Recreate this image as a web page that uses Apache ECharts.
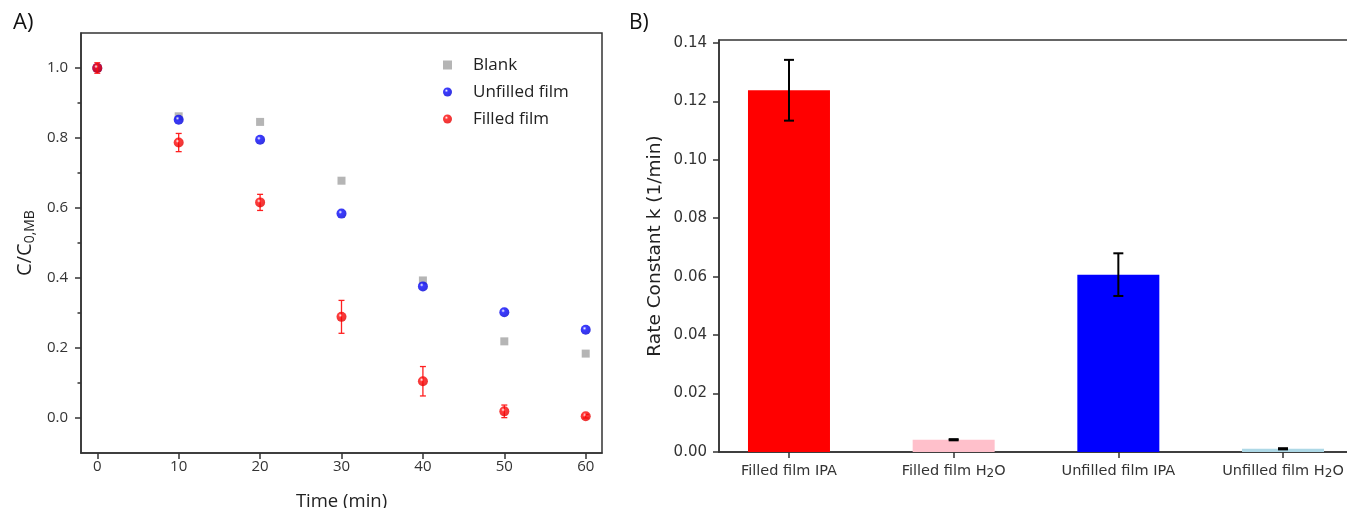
<!DOCTYPE html>
<html>
<head>
<meta charset="utf-8">
<script src="https://cdn.jsdelivr.net/npm/echarts@6/dist/echarts.min.js"></script>
<style>
html,body{margin:0;padding:0;background:#fff;}
#chart{width:1347px;height:508px;}
</style>
</head>
<body>
<div id="chart"></div>
<script>
// ---- Panel A data ----
const times = [0, 10, 20, 30, 40, 50, 60];
const blank = [1.0, 0.862, 0.846, 0.678, 0.393, 0.219, 0.184];
const unfilled = [1.0, 0.852, 0.795, 0.584, 0.376, 0.302, 0.252];
const filled = [1.0, 0.787, 0.616, 0.289, 0.105, 0.019, 0.005];
const filledErr = [0.015, 0.026, 0.023, 0.047, 0.042, 0.018, 0.005];
const timeTicks = [0, 10, 20, 30, 40, 50, 60];
const ratioTicks = [0, 0.2, 0.4, 0.6, 0.8, 1.0];
const ratioMinorTicks = [0.1, 0.3, 0.5, 0.7, 0.9];

// ---- Panel B data ----
const categories = ['Filled film IPA', 'Filled film H2O', 'Unfilled film IPA', 'Unfilled film H2O'];
const rateK = [0.1238, 0.0042, 0.0607, 0.0011];
const rateErr = [0.0104, 0.0002, 0.0073, 0.0002];
const rateTicks = [0, 0.02, 0.04, 0.06, 0.08, 0.10, 0.12, 0.14];
const barColors = ['#ff0000', '#ffc0cb', '#0000ff', '#add8e6'];

const leftFont = 'Open Sans';
const rightFont = 'DejaVu Sans';
const axisColor = '#333';

function sphere(base, dark) {
  return {
    type: 'radial', x: 0.38, y: 0.35, r: 0.75,
    colorStops: [
      {offset: 0, color: '#ffffff'},
      {offset: 0.25, color: base},
      {offset: 1, color: dark}
    ]
  };
}

function errRender(capHalf, color, lw) {
  return function (params, api) {
    const x = api.value(0), lo = api.value(1), hi = api.value(2);
    const t = api.coord([x, hi]);
    const b = api.coord([x, lo]);
    const st = {stroke: color, lineWidth: lw};
    return {
      type: 'group',
      children: [
        {type: 'line', shape: {x1: t[0], y1: t[1], x2: b[0], y2: b[1]}, style: st},
        {type: 'line', shape: {x1: t[0] - capHalf, y1: t[1], x2: t[0] + capHalf, y2: t[1]}, style: st},
        {type: 'line', shape: {x1: b[0] - capHalf, y1: b[1], x2: b[0] + capHalf, y2: b[1]}, style: st}
      ]
    };
  };
}

function catLabel(i) {
  const name = categories[i];
  if (name === undefined) return '';
  const m = name.match(/^(.*)H2O$/);
  if (m) return '{n|' + m[1] + 'H}{s|2}{n|O}';
  return '{n|' + name + '}';
}

const chart = echarts.init(document.getElementById('chart'), null, {renderer: 'canvas'});

const option = {
  animation: false,
  backgroundColor: '#ffffff',
  graphic: [
    {type: 'text', left: 13, top: 12, style: {text: 'A)', font: '22px "Open Sans"', fill: '#111'}},
    {type: 'text', left: 629, top: 13, style: {text: 'B)', font: '21px "Open Sans"', fill: '#111'}}
  ],
  legend: {
    show: true,
    orient: 'vertical',
    left: 438,
    top: 51,
    itemWidth: 9,
    itemHeight: 9,
    itemGap: 9,
    textStyle: {fontFamily: leftFont, fontSize: 17, color: '#222', lineHeight: 18, padding: [0, 0, 0, 16]},
    data: ['Blank', 'Unfilled film', 'Filled film']
  },
  grid: [
    {left: 81, top: 33, width: 521, height: 420, show: true, borderColor: axisColor, borderWidth: 1.5, containLabel: false, outerBoundsMode: 'none'},
    {left: 719, top: 40, width: 634, height: 412, show: true, borderColor: axisColor, borderWidth: 1.5, containLabel: false, outerBoundsMode: 'none'}
  ],
  xAxis: [
    {
      type: 'value', gridIndex: 0, min: -2, max: 62,
      name: 'Time (min)', nameLocation: 'middle', nameGap: 39,
      nameTextStyle: {fontFamily: leftFont, fontSize: 18.5, color: '#222', lineHeight: 20},
      axisLine: {show: true, onZero: false, lineStyle: {color: axisColor, width: 1.5}},
      axisTick: {show: true, inside: false, length: 6, customValues: timeTicks, lineStyle: {color: axisColor, width: 1.5}},
      axisLabel: {customValues: timeTicks, margin: 6, fontFamily: leftFont, fontSize: 15, color: '#333', lineHeight: 16},
      splitLine: {show: false}
    },
    {
      type: 'value', gridIndex: 1, min: -0.425, max: 3.425,
      axisLine: {show: true, onZero: false, lineStyle: {color: axisColor, width: 1.5}},
      axisTick: {show: true, inside: false, length: 6, customValues: [0, 1, 2, 3], lineStyle: {color: axisColor, width: 1.5}},
      axisLabel: {
        customValues: [0, 1, 2, 3], margin: 12,
        formatter: function (v) { return catLabel(Math.round(v)); },
        rich: {
          n: {fontFamily: rightFont, fontSize: 14.5, color: '#333', lineHeight: 16, verticalAlign: 'top'},
          s: {fontFamily: rightFont, fontSize: 12, color: '#333', lineHeight: 14, verticalAlign: 'bottom', padding: [7, 0, 0, 0]}
        }
      },
      splitLine: {show: false}
    }
  ],
  yAxis: [
    {
      type: 'value', gridIndex: 0, min: -0.1, max: 1.1, position: 'left',
      name: '{a|C/C}{b|0,MB}', nameLocation: 'middle', nameGap: 44, nameRotate: 90,
      nameTextStyle: {
        rich: {
          a: {fontFamily: leftFont, fontSize: 20, color: '#222', lineHeight: 22, verticalAlign: 'top'},
          b: {fontFamily: leftFont, fontSize: 14, color: '#222', lineHeight: 16, verticalAlign: 'bottom', padding: [10, 0, 0, 0]}
        }
      },
      axisLine: {show: true, onZero: false, lineStyle: {color: axisColor, width: 1.5}},
      axisTick: {show: true, inside: false, length: 6, customValues: ratioTicks, lineStyle: {color: axisColor, width: 1.5}},
      axisLabel: {customValues: ratioTicks, margin: 13, formatter: function (v) { return v.toFixed(1); }, fontFamily: leftFont, fontSize: 15, color: '#333'},
      splitLine: {show: false}
    },
    {
      type: 'value', gridIndex: 0, min: -0.1, max: 1.1, position: 'left', offset: 0,
      axisLine: {show: false, onZero: false},
      axisTick: {show: true, inside: false, length: 3.5, customValues: ratioMinorTicks, lineStyle: {color: axisColor, width: 1.5}},
      axisLabel: {show: false},
      splitLine: {show: false}
    },
    {
      type: 'value', gridIndex: 1, min: 0, max: 0.141,
      name: 'Rate Constant k (1/min)', nameLocation: 'middle', nameGap: 54, nameRotate: 90,
      nameTextStyle: {fontFamily: rightFont, fontSize: 18.5, color: '#222', lineHeight: 20},
      axisLine: {show: true, onZero: false, lineStyle: {color: axisColor, width: 1.5}},
      axisTick: {show: true, inside: false, length: 6, customValues: rateTicks, lineStyle: {color: axisColor, width: 1.5}},
      axisLabel: {customValues: rateTicks, margin: 12, formatter: function (v) { return v.toFixed(2); }, fontFamily: rightFont, fontSize: 15, color: '#333'},
      splitLine: {show: false}
    }
  ],
  series: [
    {
      name: 'Blank', type: 'scatter', xAxisIndex: 0, yAxisIndex: 0,
      symbol: 'rect', symbolSize: 8, z: 2,
      itemStyle: {color: '#a3a3a3'},
      data: times.map(function (t, i) { return [t, blank[i]]; })
    },
    {
      name: 'Unfilled film', type: 'scatter', xAxisIndex: 0, yAxisIndex: 0,
      symbol: 'circle', symbolSize: 10, z: 3,
      itemStyle: {color: sphere('#0a0aff', '#0000d0')},
      data: times.map(function (t, i) { return [t, unfilled[i]]; })
    },
    {
      name: 'Filled film err', type: 'custom', xAxisIndex: 0, yAxisIndex: 0, z: 4,
      renderItem: errRender(3, '#ff2020', 1.3),
      encode: {x: 0, y: [1, 2]},
      data: times.map(function (t, i) { return [t, filled[i] - filledErr[i], filled[i] + filledErr[i]]; })
    },
    {
      name: 'Filled film', type: 'scatter', xAxisIndex: 0, yAxisIndex: 0,
      symbol: 'circle', symbolSize: 10, z: 5,
      itemStyle: {color: sphere('#ff0a0a', '#e00000')},
      data: times.map(function (t, i) { return [t, filled[i]]; })
    },
    {
      name: 'Rate constant', type: 'bar', xAxisIndex: 1, yAxisIndex: 2,
      barWidth: 82, z: 2,
      data: rateK.map(function (v, i) { return {value: [i, v], itemStyle: {color: barColors[i]}}; })
    },
    {
      name: 'Rate err', type: 'custom', xAxisIndex: 1, yAxisIndex: 2, z: 5,
      renderItem: errRender(5, '#000', 2),
      encode: {x: 0, y: [1, 2]},
      data: rateK.map(function (v, i) { return [i, v - rateErr[i], v + rateErr[i]]; })
    }
  ]
};
chart.setOption(option);
</script>
</body>
</html>
